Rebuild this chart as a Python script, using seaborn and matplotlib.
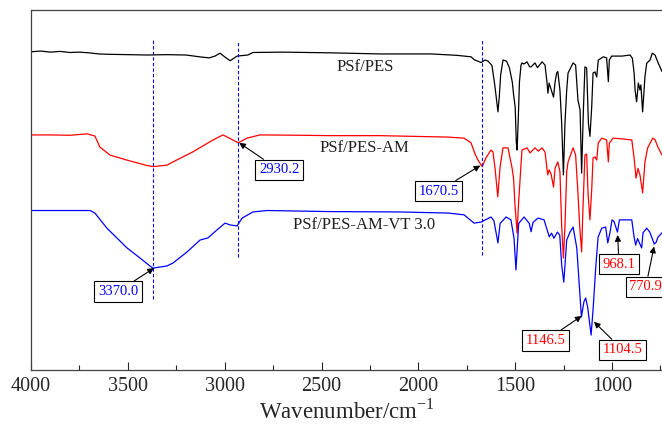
import matplotlib
matplotlib.use("Agg")
import matplotlib.pyplot as plt
from matplotlib.ticker import MultipleLocator
import seaborn as sns
import pandas as pd

# FTIR spectra (transmittance, offset, a.u.)
wn_pes = [4000, 3950, 3900, 3850, 3800, 3750, 3700, 3650, 3600, 3500, 3400, 3300, 3200, 3130, 3080,
          3050, 3024, 3000, 2972, 2936, 2880, 2854, 2700, 2450, 2200, 1935, 1800, 1728, 1712, 1676,
          1656, 1640, 1620, 1605, 1594, 1589, 1582, 1575, 1563, 1545, 1530, 1515, 1508, 1500, 1494,
          1490, 1484, 1478, 1470, 1465, 1455, 1439, 1425, 1418, 1398, 1385, 1361, 1346, 1336, 1331,
          1325, 1315, 1302, 1294, 1286, 1280, 1269, 1260, 1251, 1243, 1234, 1227, 1201, 1188, 1176,
          1165, 1157, 1148, 1140, 1131, 1122, 1114, 1105, 1098, 1088, 1079, 1071, 1045, 1028, 1019,
          1014, 1002, 948, 907, 895, 886, 881, 873, 864, 856, 851, 842, 830, 821, 804,
          792, 778, 761, 742]
t_pes = [88.4, 88.6, 88.3, 88.5, 88.2, 88.3, 88.1, 87.8, 87.7, 87.6, 87.5, 87.6, 87.5, 87.0, 86.7,
         87.2, 88.0, 87.0, 85.9, 87.2, 87.5, 88.2, 88.3, 88.1, 87.8, 87.8, 87.4, 87.0, 86.2, 85.4,
         86.1, 85.8, 84.6, 79.0, 74.0, 71.7, 76.0, 82.0, 86.1, 85.8, 84.0, 80.0, 76.4, 73.0, 63.0,
         61.1, 70.0, 80.0, 84.7, 85.3, 85.0, 85.6, 84.2, 84.2, 85.3, 84.0, 85.6, 84.7, 80.0, 76.9,
         79.7, 78.0, 75.8, 80.0, 82.5, 82.9, 77.8, 68.6, 54.2, 68.6, 77.8, 82.5, 85.3, 84.7, 75.0,
         72.2, 54.7, 72.0, 84.2, 83.9, 68.6, 64.9, 73.0, 82.5, 82.8, 81.4, 86.1, 87.0, 86.7, 80.1,
         86.1, 87.2, 87.2, 87.5, 86.6, 82.5, 77.8, 74.5, 79.7, 77.8, 79.2, 71.7, 81.5, 85.2, 86.1,
         88.0, 87.5, 85.2, 82.9]

wn_am = [4000, 3900, 3800, 3711, 3670, 3644, 3592, 3504, 3401, 3370, 3298, 3267, 3164, 3060, 3009,
         2972, 2930.2, 2885, 2818, 2600, 2456, 2200, 1935, 1847, 1764, 1728, 1707, 1692, 1670.5, 1651,
         1625, 1615, 1604, 1590, 1578, 1563, 1537, 1516, 1508, 1501, 1490, 1484, 1470, 1465, 1439,
         1423, 1398, 1380, 1361, 1346, 1332, 1325, 1315, 1302, 1294, 1280, 1269, 1260, 1251, 1243,
         1234, 1227, 1201, 1188, 1176, 1167, 1157, 1150, 1140, 1131, 1124, 1114, 1105, 1098, 1088,
         1079, 1071, 1053, 1028, 1019, 1014, 995, 948, 898, 886, 876, 866, 856, 842, 830,
         816, 790, 778, 763, 742]
t_am = [65.3, 65.3, 65.2, 65.6, 65.0, 61.9, 59.7, 58.3, 56.8, 56.5, 56.9, 57.8, 60.6, 63.9, 65.3,
        64.3, 63.1, 64.4, 65.3, 65.2, 65.1, 65.1, 64.8, 64.7, 64.4, 63.1, 60.0, 58.3, 56.5, 58.9,
        61.1, 60.6, 56.1, 48.1, 56.4, 61.7, 61.7, 56.1, 53.0, 45.8, 38.0, 45.0, 57.0, 61.1, 61.7,
        60.3, 61.7, 60.8, 61.7, 60.5, 54.2, 55.6, 54.5, 50.8, 56.1, 57.8, 55.1, 40.0, 31.1, 40.0,
        55.0, 57.8, 61.7, 59.7, 49.2, 40.0, 32.8, 45.0, 59.7, 60.0, 49.2, 41.7, 50.0, 58.9, 59.2,
        58.3, 63.1, 64.4, 63.9, 57.8, 63.0, 64.4, 64.2, 63.9, 58.9, 53.3, 56.0, 54.2, 49.2, 57.8,
        61.7, 64.4, 64.0, 61.9, 59.7]

wn_vt = [4000, 3900, 3800, 3695, 3670, 3608, 3504, 3437, 3386, 3370, 3298, 3267, 3194, 3127, 3086,
         3040, 2998, 2972, 2936, 2910, 2854, 2781, 2456, 2095, 1847, 1764, 1712, 1676, 1625, 1610,
         1589, 1578, 1547, 1522, 1506, 1496, 1482, 1454, 1427, 1418, 1408, 1382, 1351, 1324, 1312,
         1300, 1282, 1270, 1260, 1249, 1234, 1217, 1201, 1182, 1158, 1145, 1136, 1126, 1108, 1098,
         1084, 1072, 1053, 1033, 1022, 1010, 1000, 990, 972, 962, 898, 886, 878, 868, 860,
         847, 840, 821, 805, 782, 772, 763, 742]
t_vt = [44.3, 44.3, 44.3, 44.3, 43.6, 39.4, 33.9, 31.1, 28.9, 28.3, 28.9, 29.7, 32.8, 36.1, 36.7,
        38.9, 40.8, 40.3, 40.0, 42.2, 43.9, 44.3, 44.0, 43.9, 43.6, 43.1, 40.8, 41.1, 42.5, 41.5,
        35.3, 40.7, 42.5, 41.7, 36.6, 27.8, 40.7, 42.5, 40.7, 38.4, 41.0, 42.2, 41.7, 37.0, 38.0,
        36.6, 38.3, 37.5, 29.2, 24.4, 36.1, 38.3, 39.7, 33.9, 14.7, 19.0, 20.0, 17.5, 9.7, 16.7,
        28.6, 36.9, 39.4, 39.7, 35.3, 38.3, 41.7, 41.3, 38.3, 41.7, 41.7, 36.9, 34.7, 36.5, 35.5,
        33.9, 38.1, 39.4, 38.3, 35.0, 35.5, 36.9, 38.1]

# sample names and where they are written
names = ['PSf/PES', 'PSf/PES-AM', 'PSf/PES-AM-VT 3.0']
name_x = [2275, 2278, 2281]
name_y = [84.2, 61.8, 40.3]

# dashed marker lines
mark_wn = [3370.0, 2930.2, 1670.5]
mark_lo = [19.7, 31.4, 31.9]
mark_hi = [92.2, 91.1, 91.7]

# peak labels: text, tip (wn, T), box centre (wn, T), colour
peak_txt = ['2930.2', '1670.5', '3370.0', '1146.5', '1104.5', '968.1', '770.9']
peak_x = [2925, 1680, 3365, 1157, 1093, 971, 783]
peak_y = [63.1, 56.8, 28.3, 15.0, 13.4, 37.5, 34.3]
box_x = [2719, 1896, 3551, 1343, 946, 964, 826]
box_y = [55.6, 49.7, 21.8, 8.2, 5.6, 29.4, 23.1]
peak_col = ['blue', 'blue', 'blue', 'red', 'red', 'red', 'red']

df = pd.concat([
    pd.DataFrame({'wn': wn_pes, 't': t_pes, 's': names[0]}),
    pd.DataFrame({'wn': wn_am, 't': t_am, 's': names[1]}),
    pd.DataFrame({'wn': wn_vt, 't': t_vt, 's': names[2]}),
])

sns.set_style("ticks")
plt.rcParams['font.family'] = ['Liberation Serif', 'DejaVu Serif']
plt.rcParams['mathtext.fontset'] = 'custom'
plt.rcParams['mathtext.rm'] = 'Liberation Serif'

fig = plt.figure(figsize=(6.62, 4.26), dpi=100)
ax = fig.add_axes([0.0468, 0.1315, 0.9532, 0.845])

sns.lineplot(data=df, x='wn', y='t', hue='s', palette=['black', 'red', 'blue'],
             linewidth=0.9, legend=False, ax=ax, estimator=None, sort=False)

ax.vlines(mark_wn, mark_lo, mark_hi, colors='blue', linestyles=(0, (3, 2)), linewidth=0.8)

for n, x, y in zip(names, name_x, name_y):
    ax.text(x, y, n, ha='center', va='center', fontsize=12, color='#202020')

for s, px, py, bx, by, c in zip(peak_txt, peak_x, peak_y, box_x, box_y, peak_col):
    ax.annotate(s, xy=(px, py), xytext=(bx, by), ha='center', va='center', fontsize=10.5, color=c,
                bbox=dict(boxstyle='square,pad=0.25', fc='white', ec='black', lw=0.8),
                arrowprops=dict(arrowstyle='-|>', color='black', lw=0.8, mutation_scale=9,
                                shrinkA=0, shrinkB=0))

ax.set_xlim(4000, 742)
ax.set_ylim(0, 100)
ax.xaxis.set_major_locator(MultipleLocator(500))
ax.xaxis.set_minor_locator(MultipleLocator(250))
ax.set_yticks([])
ax.tick_params(axis='x', which='major', direction='in', length=6, width=0.8, labelsize=14.5, pad=5)
ax.tick_params(axis='x', which='minor', direction='in', length=3.5, width=0.8)
ax.set_xlabel('Wavenumber/cm$^{\\mathregular{-1}}$', fontsize=16.5, labelpad=2)
ax.set_ylabel('')
for side in ['left', 'top', 'bottom']:
    ax.spines[side].set_color('#404040')
    ax.spines[side].set_linewidth(0.9)
ax.spines['right'].set_visible(False)

fig.savefig('out.png', dpi=100)
